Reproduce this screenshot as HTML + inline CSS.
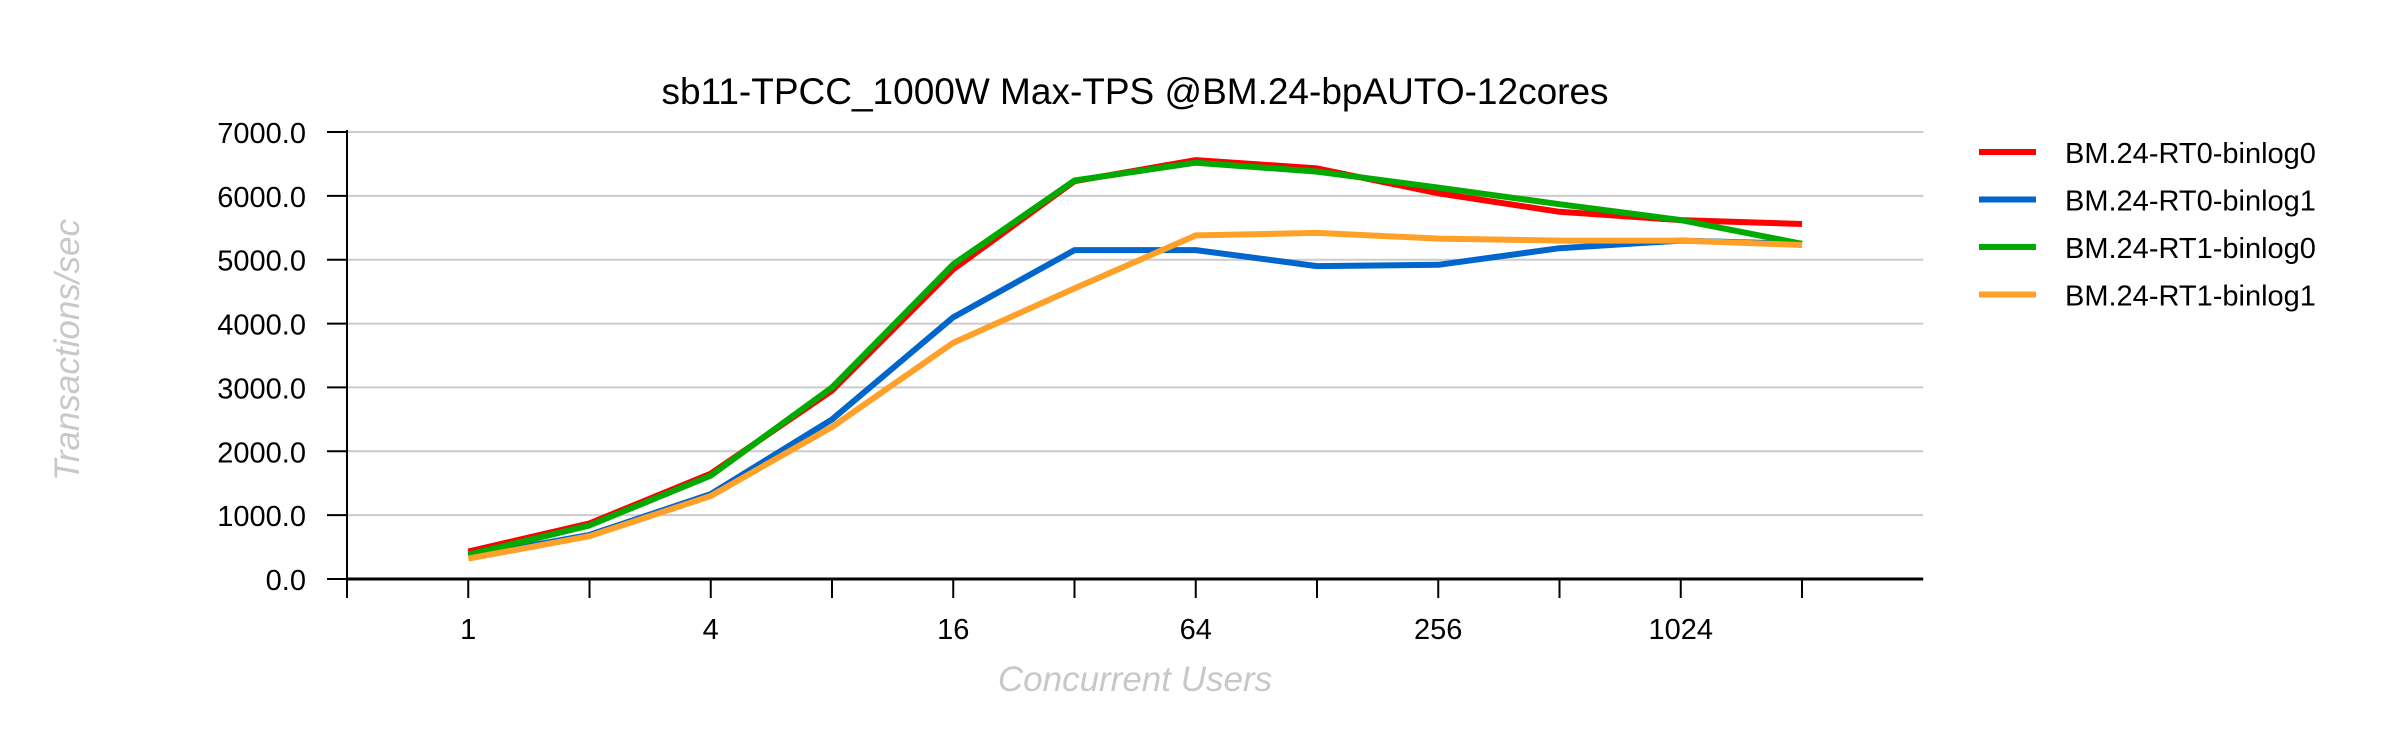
<!DOCTYPE html>
<html><head><meta charset="utf-8"><style>
html,body{margin:0;padding:0;background:#fff;}
svg{display:block;font-family:"Liberation Sans","DejaVu Sans",sans-serif;}
</style></head><body>
<svg id="chart" width="2400" height="748" viewBox="0 0 2400 748" xmlns="http://www.w3.org/2000/svg">
<text x="1135" y="104" font-size="37" text-anchor="middle" fill="#000">sb11-TPCC_1000W Max-TPS @BM.24-bpAUTO-12cores</text>
<text x="1135" y="691" font-size="35" font-style="italic" text-anchor="middle" fill="#c8c8c8">Concurrent Users</text>
<text transform="translate(79,350) rotate(-90)" font-size="35" font-style="italic" text-anchor="middle" fill="#c8c8c8">Transactions/sec</text>
<g id="grid"></g><g id="axes"></g><g id="series"></g><g id="legend"></g>
</svg>
<script>
const users = [1,2,4,8,16,32,64,128,256,512,1024,2048];
const xLabels = ["1","","4","","16","","64","","256","","1024",""];
const yTicks = [0,1000,2000,3000,4000,5000,6000,7000];
const seriesNames = ["BM.24-RT0-binlog0","BM.24-RT0-binlog1","BM.24-RT1-binlog0","BM.24-RT1-binlog1"];
const rt0binlog0 = [430,870,1650,2950,4850,6230,6560,6430,6040,5750,5620,5560];
const rt0binlog1 = [350,690,1330,2500,4100,5150,5150,4900,4920,5180,5300,5250];
const rt1binlog0 = [380,840,1620,3000,4930,6240,6520,6380,6130,5870,5620,5250];
const rt1binlog1 = [320,670,1300,2380,3700,4550,5380,5420,5330,5300,5300,5230];

const colors = ["#ff0000","#0066cc","#00aa00","#ffa028"];
const allSeries = [rt0binlog0, rt0binlog1, rt1binlog0, rt1binlog1];
const NS = "http://www.w3.org/2000/svg";
const X0 = 347, STEP = 121.25, Y0 = 579, YTOP = 132, YMAX = 7000;
function xPos(i){ return X0 + (i+1)*STEP; }
function yPos(v){ return Y0 - v/YMAX*(Y0-YTOP); }
function mk(tag, attrs, parent){ const e=document.createElementNS(NS,tag); for(const k in attrs) e.setAttribute(k,attrs[k]); parent.appendChild(e); return e; }
const grid=document.getElementById('grid'), axes=document.getElementById('axes'), ser=document.getElementById('series'), leg=document.getElementById('legend');
const XEND = X0 + (users.length+1)*STEP;
yTicks.forEach(v=>{
  const y=yPos(v);
  if(v>0){ const g=mk('line',{x1:X0,x2:XEND,y1:y,y2:y,stroke:'#cccccc','stroke-width':2},grid);
  
   }
  const t=mk('line',{x1:X0-20,x2:X0,y1:y,y2:y,stroke:'#000','stroke-width':2},axes);
  
  
  const l=mk('text',{x:306,y:y+11,'font-size':29,'text-anchor':'end',fill:'#000'},axes);
  l.textContent=v.toFixed(1);
  
  
});
const ya=mk('line',{x1:X0,x2:X0,y1:YTOP-2,y2:Y0,stroke:'#000','stroke-width':2},axes);


const xa=mk('line',{x1:X0,x2:XEND,y1:Y0,y2:Y0,stroke:'#000','stroke-width':3},axes);


for(let k=-1;k<users.length;k++){
  const x=xPos(k);
  const t=mk('line',{x1:x,x2:x,y1:Y0,y2:Y0+19,stroke:'#000','stroke-width':2},axes);
  
  
}
xLabels.forEach((s,i)=>{ if(!s) return;
  const l=mk('text',{x:xPos(i),y:639,'font-size':29,'text-anchor':'middle',fill:'#000'},axes);
  l.textContent=s;
  
  
});
allSeries.forEach((arr,si)=>{
  const pts=arr.map((v,i)=>xPos(i).toFixed(1)+','+yPos(v).toFixed(1)).join(' ');
  const p=mk('polyline',{points:pts,fill:'none',stroke:colors[si],'stroke-width':6,'stroke-linejoin':'round'},ser);
  
  
  const y=152+si*47.5;
  const lg=mk('line',{x1:1979,x2:2036,y1:y,y2:y,stroke:colors[si],'stroke-width':6},leg);
  
  
  const lt=mk('text',{x:2065,y:y+11,'font-size':29,fill:'#000'},leg);
  lt.textContent=seriesNames[si];
  
  
});
</script>
</body></html>
